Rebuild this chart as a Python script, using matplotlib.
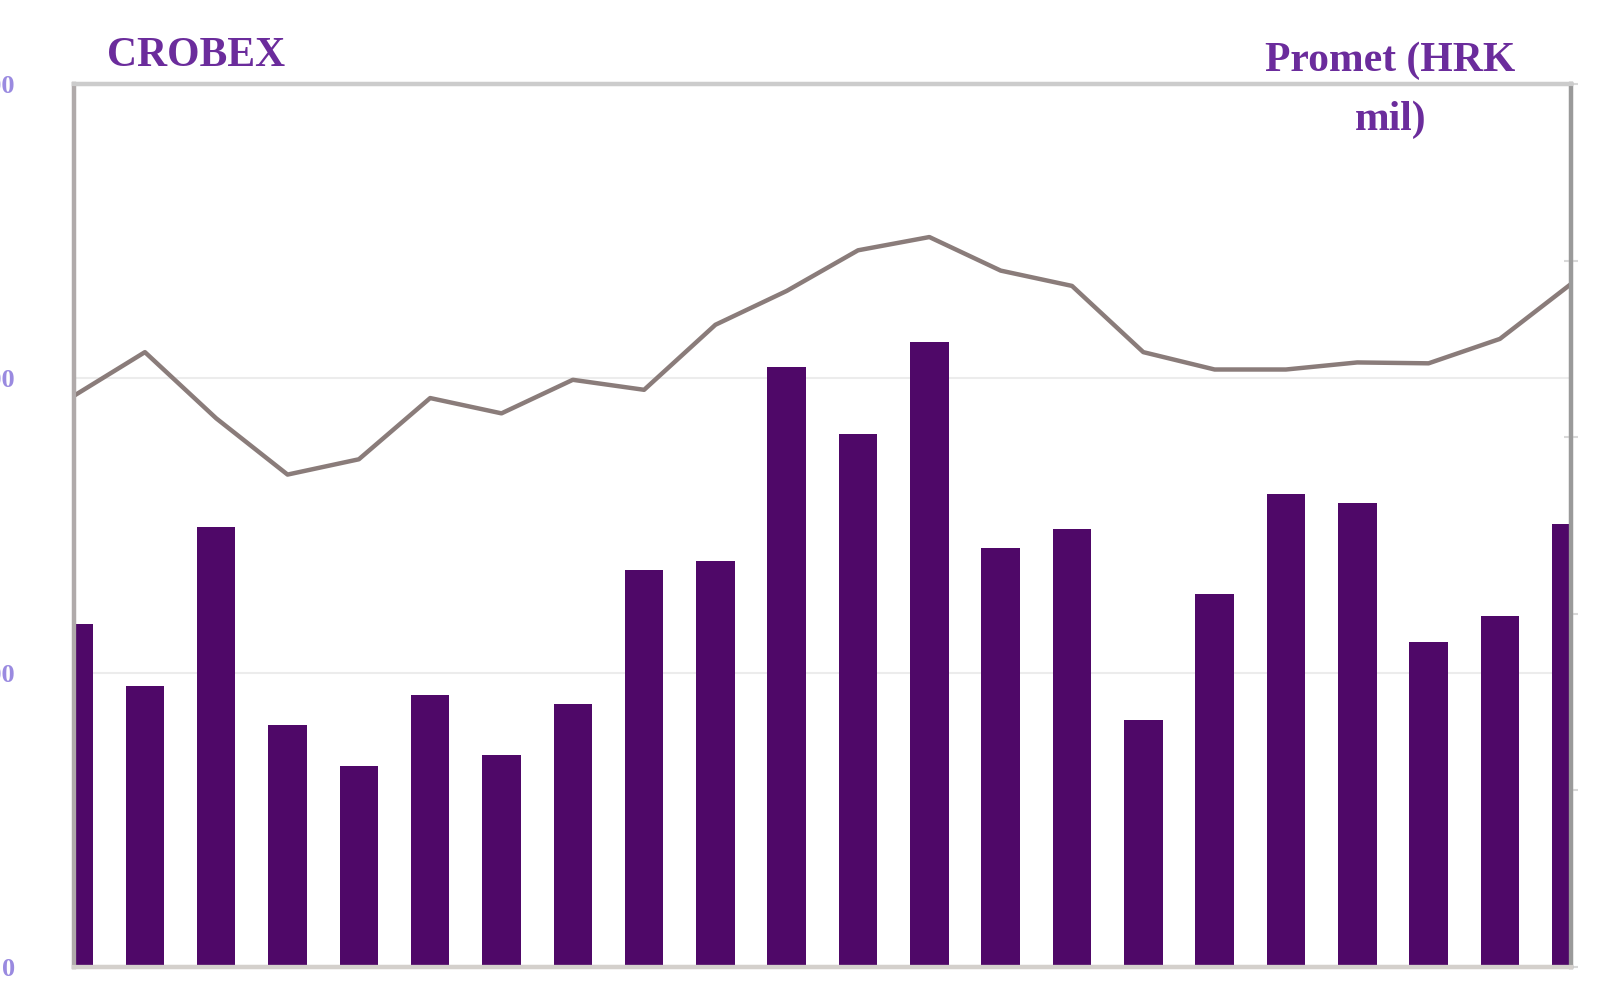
import matplotlib.pyplot as plt
import numpy as np

# monthly values
crobex = [1940, 2089, 1864, 1673, 1725, 1933, 1881, 1995, 1961, 2182, 2297,
          2435, 2480, 2366, 2314, 2089, 2030, 2030, 2054, 2051, 2134, 2321]
promet = [194, 159, 249, 137, 114, 154, 120, 149, 225, 230, 340,
          302, 354, 237, 248, 140, 211, 268, 263, 184, 199, 251]
left_ticks = [0, 1000, 2000, 3000]
right_ticks = [0, 100, 200, 300, 400, 500]

BAR = "#4f0868"
LINE = "#8a7c7a"
TEXT = "#6b2c9c"
TICKLBL = "#9a8ae0"

fig = plt.figure(figsize=(16, 10), dpi=100)
ax = fig.add_axes([0.046, 0.033, 0.936, 0.883])
ax2 = ax.twinx()   # bars, right scale
ax3 = ax.twinx()   # line, left scale (drawn on top)

x = np.arange(len(crobex))

# base axes: left scale, grid and labels only
ax.set_ylim(0, 3000)
ax.set_yticks(left_ticks)
ax.set_yticklabels([str(v) for v in left_ticks], fontsize=19,
                   fontfamily="Liberation Serif", fontweight="bold",
                   color=TICKLBL)
ax.tick_params(axis="y", length=0, pad=42)
ax.grid(axis="y", color="#ececec", lw=1.5)

ax2.bar(x, promet, width=0.54, color=BAR, zorder=2)
ax2.set_ylim(0, 500)
ax2.set_yticks(right_ticks)
ax2.tick_params(axis="y", direction="inout", length=10, width=1.5,
                color="#d8d8d8", labelright=False)

ax3.plot(x, crobex, color=LINE, lw=3.2)
ax3.set_ylim(ax.get_ylim())
ax3.set_yticks([])

for a in (ax, ax2, ax3):
    a.set_xlim(0, len(crobex) - 1)
    a.set_xticks([])
    a.spines["left"].set_color("#b0aaaa")
    a.spines["right"].set_color("#9a9a9a")
    a.spines["top"].set_color("#cccccc")
    a.spines["bottom"].set_color("#d4d0cc")
    for s in a.spines.values():
        s.set_linewidth(3)

fig.text(0.1225, 0.944, "CROBEX", fontsize=30, fontfamily="Liberation Serif",
         fontweight="bold", color=TEXT, ha="center", va="center")
fig.text(0.869, 0.939, "Promet (HRK", fontsize=30, fontfamily="Liberation Serif",
         fontweight="bold", color=TEXT, ha="center", va="center")
fig.text(0.869, 0.880, "mil)", fontsize=30, fontfamily="Liberation Serif",
         fontweight="bold", color=TEXT, ha="center", va="center")

fig.savefig("out.png", dpi=100)
